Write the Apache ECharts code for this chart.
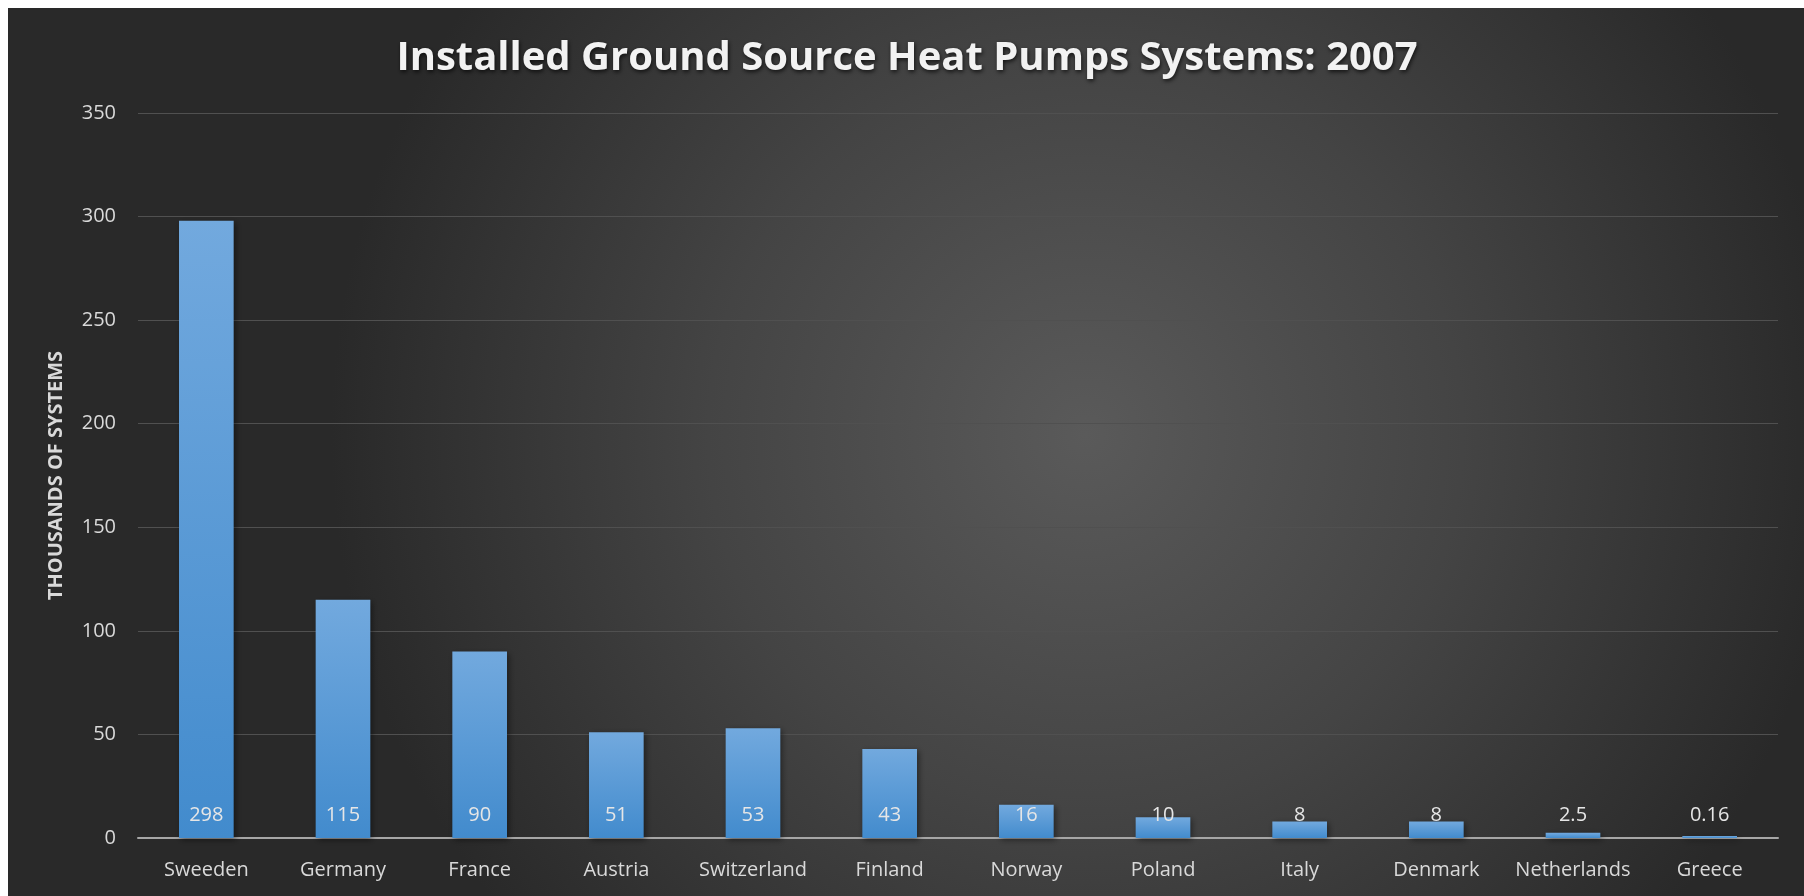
<!DOCTYPE html>
<html>
<head>
<meta charset="utf-8">
<script src="https://cdn.jsdelivr.net/npm/echarts@6/dist/echarts.min.js"></script>
<style>
  html, body { margin: 0; padding: 0; background: #ffffff; }
  #main { width: 1804px; height: 896px; }
</style>
</head>
<body>
<div id="main"></div>
<script>
// data
const countries = ['Sweeden', 'Germany', 'France', 'Austria', 'Switzerland', 'Finland',
                   'Norway', 'Poland', 'Italy', 'Denmark', 'Netherlands', 'Greece'];
const systems = [298, 115, 90, 51, 53, 43, 16, 10, 8, 8, 2.5, 0.16];
const yTicks = { min: 0, max: 350, interval: 50 };

var chart = echarts.init(document.getElementById('main'));
var font = 'Open Sans';

var option = {
    backgroundColor: '#ffffff',
    graphic: [{
        type: 'rect',
        z: -10,
        silent: true,
        shape: { x: 8, y: 8, width: 1796, height: 888 },
        style: {
            fill: new echarts.graphic.RadialGradient(0.6, 0.48, 0.85, [
                { offset: 0, color: '#5a5a5a' },
                { offset: 0.5, color: '#444444' },
                { offset: 1, color: '#292929' }
            ])
        }
    }],
    title: {
        text: 'Installed Ground Source Heat Pumps Systems: 2007',
        left: 902,
        top: 34,
        textAlign: 'center',
        textStyle: {
            fontFamily: font,
            fontWeight: 'bold',
            fontSize: 40,
            color: '#f2f2f2',
            textShadowColor: 'rgba(0,0,0,0.7)',
            textShadowBlur: 4,
            textShadowOffsetX: 1,
            textShadowOffsetY: 2
        }
    },
    grid: { left: 138, right: 26, top: 113, bottom: 58 },
    xAxis: {
        type: 'category',
        data: countries,
        axisTick: { show: false },
        axisLine: { lineStyle: { color: '#a6a6a6', width: 2 } },
        axisLabel: { interval: 0, color: '#d9d9d9', fontFamily: font, fontSize: 20, margin: 22 }
    },
    yAxis: {
        type: 'value',
        min: yTicks.min,
        max: yTicks.max,
        interval: yTicks.interval,
        name: 'THOUSANDS OF SYSTEMS',
        nameLocation: 'middle',
        nameGap: 72,
        nameTextStyle: { color: '#d9d9d9', fontFamily: font, fontWeight: 'bold', fontSize: 20 },
        axisLine: { show: false },
        axisTick: { show: false },
        axisLabel: { color: '#d9d9d9', fontFamily: font, fontSize: 20, margin: 22 },
        splitLine: { lineStyle: { color: '#505050', width: 1 } }
    },
    series: [{
        type: 'bar',
        data: systems,
        barWidth: '40%',
        barMinHeight: 2,
        itemStyle: {
            color: new echarts.graphic.LinearGradient(0, 0, 0, 1, [
                { offset: 0, color: '#72a9de' },
                { offset: 1, color: '#428bcd' }
            ]),
            shadowColor: 'rgba(0,0,0,0.45)',
            shadowBlur: 6,
            shadowOffsetX: 2,
            shadowOffsetY: 2
        },
        label: {
            show: true,
            position: 'insideBottom',
            distance: 13,
            color: '#e6e6e6',
            fontFamily: font,
            fontSize: 20
        }
    }]
};

chart.setOption(option);
</script>
</body>
</html>
